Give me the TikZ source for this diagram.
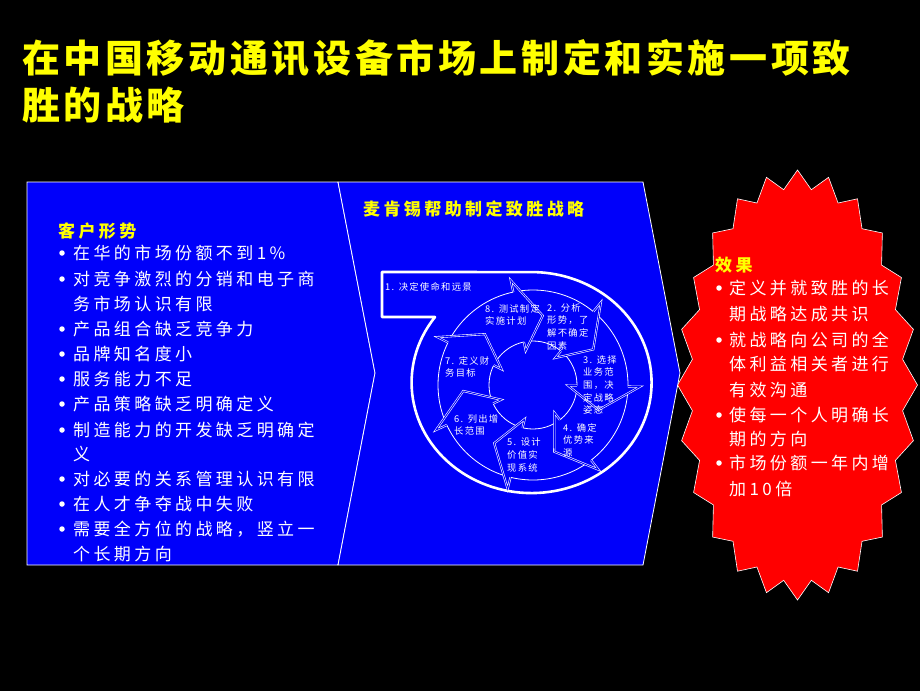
\documentclass[tikz,border=0pt]{standalone}
\usepackage{fontspec}
\newfontfamily\cjk{Noto Sans CJK SC}[LetterSpace=20]
\newfontfamily\cjksm{Noto Sans CJK SC}[LetterSpace=14]
\newfontfamily\cjktt{Noto Sans CJK SC}[LetterSpace=9.5]
\definecolor{pptblue}{RGB}{0,0,250}
\definecolor{pptred}{RGB}{255,0,0}
\definecolor{pptyellow}{RGB}{255,255,0}

% one head of the inner cycle, #1 = angle of its tip
\newcommand{\cyclehead}[1]{%
  \fill[pptblue] (#1-20:107) -- (#1:70) -- (#1-20:35) -- cycle;
  \draw[barb] (#1-20:95) -- (#1-20:107) -- (#1:70) -- (#1-20:35) -- (#1-20:44);}

\begin{document}
\begin{tikzpicture}[x=1pt, y=-1pt,
  title/.style={anchor=west, inner sep=0pt, text=pptyellow, font=\cjktt\bfseries\fontsize{38}{42}\selectfont},
  head/.style={anchor=west, inner sep=0pt, text=pptyellow, font=\cjk\bfseries\fontsize{17}{20}\selectfont},
  item/.style={anchor=west, inner sep=0pt, text=white, font=\cjk\fontsize{17}{20}\selectfont},
  dot/.style={circle, fill=white, inner sep=0pt, minimum size=5.5pt},
  lbl/.style={anchor=north west, inner sep=0pt, text=white, align=left, font=\cjksm\fontsize{9.3}{12.7}\selectfont},
  panel/.style={fill=pptblue, draw=white, line width=0.8pt, line join=miter},
  ring/.style={draw=white, line width=2.6pt, line join=round},
  barb/.style={draw=white, double=pptblue, double distance=0.9pt, line width=0.6pt, line join=miter},
  burst/.style={fill=pptred, draw=white, line width=0.6pt}]

\useasboundingbox (0,0) rectangle (920,691);
\fill[black] (0,0) rectangle (920,691);

% title
\node[title] (t1) at (22,58) {在中国移动通讯设备市场上制定和实施一项致};
\node[title] (t2) at (22,105) {胜的战略};

% red burst on the right
\draw[burst] plot[samples at={0,1,...,47}, variable=\t]
  ({797.5+(mod(\t,2)==0 ? 120 : 106)*cos(7.5*\t-90)},
   {385+(mod(\t,2)==0 ? 215 : 197)*sin(7.5*\t-90)}) -- cycle;

% the two blue panels
\draw[panel] (27,182) -- (338,182) -- (375,373) -- (338,565) -- (27,565) -- cycle;
\draw[panel] (338,182) -- (643,182) -- (680,373) -- (643,565) -- (338,565) -- (375,373) -- cycle;

% left panel
\node[head] (cust) at (58,231) {客户形势};
\node[dot] (d1) at (62,253) {};
\node[item] (c1) at (73,253) {在华的市场份额不到1\%};
\node[dot] (d2) at (62,279) {};
\node[item] (c2) at (73,279) {对竞争激烈的分销和电子商};
\node[item] (c2b) at (73,304) {务市场认识有限};
\node[dot] (d3) at (62,329) {};
\node[item] (c3) at (73,329) {产品组合缺乏竞争力};
\node[dot] (d4) at (62,354) {};
\node[item] (c4) at (73,354) {品牌知名度小};
\node[dot] (d5) at (62,379) {};
\node[item] (c5) at (73,379) {服务能力不足};
\node[dot] (d6) at (62,404) {};
\node[item] (c6) at (73,404) {产品策略缺乏明确定义};
\node[dot] (d7) at (62,430) {};
\node[item] (c7) at (73,430) {制造能力的开发缺乏明确定};
\node[item] (c7b) at (73,454) {义};
\node[dot] (d8) at (62,479) {};
\node[item] (c8) at (73,479) {对必要的关系管理认识有限};
\node[dot] (d9) at (62,504) {};
\node[item] (c9) at (73,504) {在人才争夺战中失败};
\node[dot] (d10) at (62,529) {};
\node[item] (c10) at (73,529) {需要全方位的战略，竖立一};
\node[item] (c10b) at (73,554) {个长期方向};

% middle panel
\node[head] (mck) at (363,209) {麦肯锡帮助制定致胜战略};
\draw[ring] (382,317) -- (435,317)
  arc[start angle=-143.6, end angle=-450, x radius=120, y radius=110.5]
  -- (382,272) -- cycle;
\node[lbl] (s1) at (385,282) {1. 决定使命和远景};

\coordinate (hub) at (533,385);
\begin{scope}[shift={(hub)}]
\draw[white, line width=0.8pt] (0,0) circle[radius=95];
\draw[white, line width=0.8pt] (0,0) circle[radius=44];
\cyclehead{-82}
\cyclehead{-30.6}
\cyclehead{20.9}
\cyclehead{72.3}
\cyclehead{123.7}
\cyclehead{175.1}
\cyclehead{226.6}
\end{scope}

\node[lbl] (s8) at (485,304) {8. 测试制定\\实施计划};
\node[lbl] (s2) at (547,303) {2. 分析\\形势，了\\解不确定\\因素};
\node[lbl] (s3) at (583,355) {3. 选择\\业务范\\围，决\\定战略\\姿态};
\node[lbl] (s4) at (563,423) {4. 确定\\优势来\\源};
\node[lbl] (s5) at (507,438) {5. 设计\\价值实\\现系统};
\node[lbl] (s6) at (454,414) {6. 列出增\\长范围};
\node[lbl] (s7) at (445,356) {7. 定义财\\务目标};

% right burst text
\node[head] (eff) at (715,265) {效果};
\node[dot] (e1) at (719,288) {};
\node[item] (f1) at (729,288) {定义并就致胜的长};
\node[item] (f1b) at (729,314) {期战略达成共识};
\node[dot] (e2) at (719,340) {};
\node[item] (f2) at (729,340) {就战略向公司的全};
\node[item] (f2b) at (729,364) {体利益相关者进行};
\node[item] (f2c) at (729,390) {有效沟通};
\node[dot] (e3) at (719,415) {};
\node[item] (f3) at (729,415) {使每一个人明确长};
\node[item] (f3b) at (729,439) {期的方向};
\node[dot] (e4) at (719,463) {};
\node[item] (f4) at (729,463) {市场份额一年内增};
\node[item] (f4b) at (729,489) {加10倍};
\end{tikzpicture}
\end{document}
